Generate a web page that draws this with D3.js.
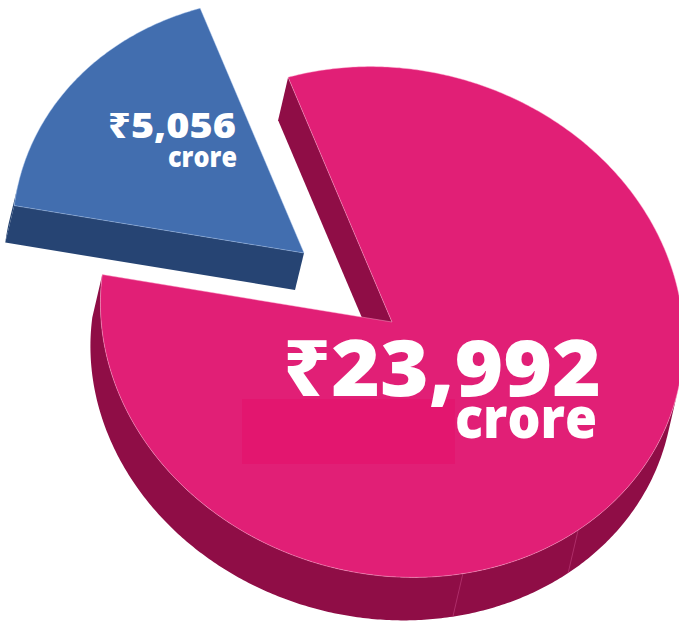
<!DOCTYPE html>
<html><head><meta charset="utf-8">
<script src="https://cdn.jsdelivr.net/npm/d3@7"></script>
<style>html,body{margin:0;padding:0;background:#fff;overflow:hidden}</style>
</head><body>
<svg id="chart" width="679" height="623"></svg>
<script>
// ---- data ----
const categories = ["Segment A", "Segment B"];
const values = [23992, 5056];
const valueLabels = ["₹23,992", "₹5,056"];
const unitLabel = "crore";

// ---- style / geometry ----
const topColors = ["#E11F76", "#426EAF"];
const sideColors = ["#8F0D46", "#264473"];
const edgeColors = ["rgba(255,170,205,0.75)", "rgba(170,200,240,0.7)"];
const cx = 392, cy = 322, rx = 294, ry = 252.6, tilt = 14.5 * Math.PI / 180;
const u = [Math.cos(tilt), Math.sin(tilt)], v = [-Math.sin(tilt), Math.cos(tilt)];
const depths = [[-10, 43], [-9, 37]];
const offsets = [[0, 0], [-88, -69]];
const start = -33.4 * Math.PI / 180;

const svg = d3.select("#chart");
const pie = d3.pie().sort(null).startAngle(start).endAngle(start + 2 * Math.PI);
const arcs = pie(values);

function P(t, c, off) {
  off = off || [0, 0];
  return [c[0] + off[0] + rx * Math.cos(t) * u[0] + ry * Math.sin(t) * v[0],
          c[1] + off[1] + rx * Math.cos(t) * u[1] + ry * Math.sin(t) * v[1]];
}
function arcPts(t0, t1, c, off) {
  const n = Math.max(2, Math.ceil(Math.abs(t1 - t0) / 0.01));
  return d3.range(n + 1).map(k => P(t0 + (t1 - t0) * k / n, c, off));
}
const cross = (a, b) => a[0] * b[1] - a[1] * b[0];
const line = d3.line();

const order = [1, 0];
order.forEach(i => {
  const a = arcs[i];
  const ts = a.startAngle - Math.PI / 2, te = a.endAngle - Math.PI / 2;
  const mid = (ts + te) / 2;
  const pm = P(mid, [0, 0]);
  const C = [cx + offsets[i][0], cy + offsets[i][1]];
  const d = depths[i];
  const g = svg.append("g");

  // radial walls
  [ts, te].forEach(t => {
    const p = P(t, C);
    const e = [p[0] - C[0], p[1] - C[1]];
    const w = [pm[0], pm[1]];
    if (Math.sign(cross(e, d)) !== Math.sign(cross(e, w))) {
      g.append("path")
        .attr("d", line([C, p, [p[0] + d[0], p[1] + d[1]], [C[0] + d[0], C[1] + d[1]]]) + "Z")
        .attr("fill", sideColors[i]);
    }
  });

  // outer curved side
  const cu = cross(u, d), cv = cross(v, d);
  let s1 = Math.atan2(ry * cv, rx * cu);
  const testMid = s1 + Math.PI / 2;
  const q = P(testMid, [0, 0], d);
  const qu = (q[0] * u[0] + q[1] * u[1]) / rx, qv = (q[0] * v[0] + q[1] * v[1]) / ry;
  if (qu * qu + qv * qv < 1) s1 += Math.PI;
  const s2 = s1 + Math.PI;
  for (let k = -2; k <= 2; k++) {
    const lo = Math.max(ts, s1 + 2 * Math.PI * k), hi = Math.min(te, s2 + 2 * Math.PI * k);
    if (lo < hi) {
      const topA = arcPts(lo, hi, C);
      const botA = arcPts(hi, lo, C, d);
      g.append("path").attr("d", line(topA.concat(botA)) + "Z").attr("fill", sideColors[i]);
      if (i === 0) {
        [37.8, 63.4].forEach(deg => {
          const t = deg * Math.PI / 180;
          if (t > lo && t < hi) {
            const p = P(t, C);
            g.append("line").attr("x1", p[0]).attr("y1", p[1])
              .attr("x2", p[0] + d[0]).attr("y2", p[1] + d[1])
              .attr("stroke", "#c0407c").attr("stroke-width", 0.8).attr("opacity", 0.8);
          }
        });
      }
    }
  }

  // top face
  g.append("path")
    .attr("d", line([C].concat(arcPts(ts, te, C))) + "Z")
    .attr("fill", topColors[i])
    .attr("stroke", edgeColors[i]).attr("stroke-width", 0.6);
});

// faint rectangle patch present in the reference
svg.append("rect").attr("x", 242).attr("y", 399).attr("width", 213).attr("height", 65)
  .attr("fill", "#E3166F");

const font = "'Open Sans', 'Noto Sans', sans-serif";
function label(txt, x, y, size, len) {
  svg.append("text").attr("x", x).attr("y", y).attr("text-anchor", "end")
    .attr("font-family", font).attr("font-weight", 800).attr("font-size", size)
    .attr("fill", "#fff").attr("textLength", len).attr("lengthAdjust", "spacingAndGlyphs")
    .text(txt);
}
label(valueLabels[0], 601, 396, 78, 318);
label(unitLabel, 597, 438, 56, 142);
label(valueLabels[1], 236, 138, 35, 128);
label(unitLabel, 237, 167, 28, 69);
</script>
</body></html>
